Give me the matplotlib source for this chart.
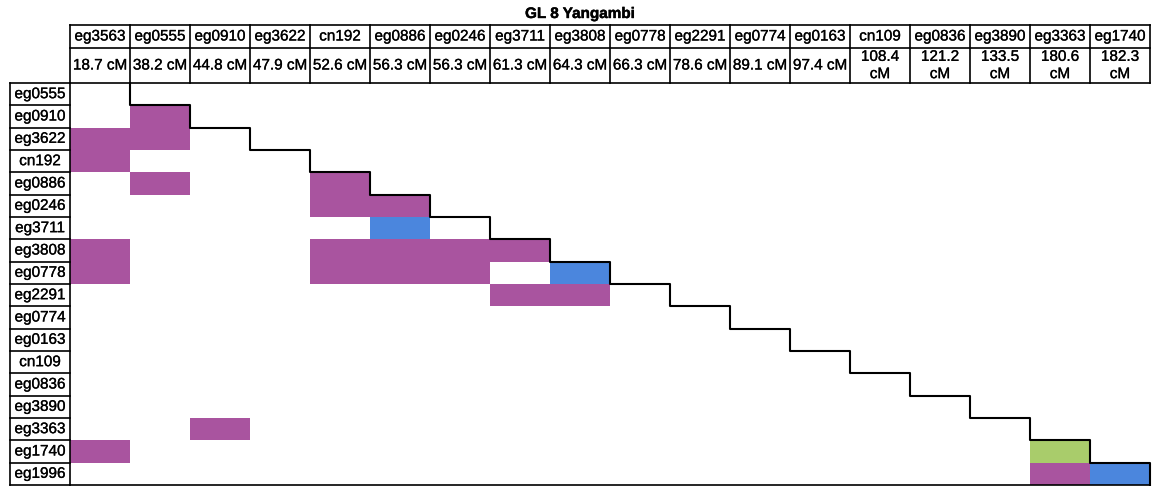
import numpy as np
import matplotlib
matplotlib.use('Agg')
import matplotlib.pyplot as plt
import matplotlib.patheffects as pe
from matplotlib.colors import ListedColormap

plt.rcParams['font.family'] = ['Liberation Sans', 'DejaVu Sans']

title = 'GL 8 Yangambi'
col_markers = ['eg3563', 'eg0555', 'eg0910', 'eg3622', 'cn192', 'eg0886',
               'eg0246', 'eg3711', 'eg3808', 'eg0778', 'eg2291', 'eg0774',
               'eg0163', 'cn109', 'eg0836', 'eg3890', 'eg3363', 'eg1740']
col_pos = ['18.7 cM', '38.2 cM', '44.8 cM', '47.9 cM', '52.6 cM', '56.3 cM',
           '56.3 cM', '61.3 cM', '64.3 cM', '66.3 cM', '78.6 cM', '89.1 cM',
           '97.4 cM', '108.4\ncM', '121.2\ncM', '133.5\ncM', '180.6\ncM',
           '182.3\ncM']
row_markers = ['eg0555', 'eg0910', 'eg3622', 'cn192', 'eg0886', 'eg0246',
               'eg3711', 'eg3808', 'eg0778', 'eg2291', 'eg0774', 'eg0163',
               'cn109', 'eg0836', 'eg3890', 'eg3363', 'eg1740', 'eg1996']

# (row, column) of the shaded marker pairs
purple_cells = [(1, 1), (2, 0), (2, 1), (3, 0), (4, 1), (4, 4), (5, 4), (5, 5),
                (7, 0), (7, 4), (7, 5), (7, 6), (7, 7), (8, 0), (8, 4), (8, 5),
                (8, 6), (9, 7), (9, 8), (15, 2), (16, 0), (17, 16)]
blue_cells = [(6, 5), (8, 8), (17, 17)]
green_cells = [(16, 16)]

n_rows, n_cols = len(row_markers), len(col_markers)

# pixel layout of the table
W, H, DPI = 1152, 486, 100
x0, cw = 70, 60          # left edge of first marker column, column width
y0, rh = 83, 402 / 18    # top of first row, row height
head1_top, head2_top = 25, 48
fs = 11
heavy = [pe.withStroke(linewidth=0.2, foreground='black')]

fig = plt.figure(figsize=(W / DPI, H / DPI), dpi=DPI)
ax = fig.add_axes([0, 0, 1, 1])
ax.set_xlim(-x0 / cw, (W - x0) / cw)
ax.set_ylim((H - y0) / rh, -y0 / rh)
ax.axis('off')

grid = np.zeros((n_rows, n_cols))
for code, cells in ((1, purple_cells), (2, blue_cells), (3, green_cells)):
    for r, c in cells:
        grid[r, c] = code
cmap = ListedColormap(['#a9549f', '#4b86dd', '#a9cc6b'])
ax.pcolormesh(np.arange(n_cols + 1), np.arange(n_rows + 1),
              np.ma.masked_equal(grid, 0), cmap=cmap, vmin=0.5, vmax=3.5,
              edgecolor='none')

lw = 1.2
h1 = (head1_top - y0) / rh
h2 = (head2_top - y0) / rh

# header boxes
for y in (h1, h2, 0):
    ax.plot([0, n_cols], [y, y], color='black', lw=lw)
for j in range(n_cols + 1):
    ax.plot([j, j], [h1, 0], color='black', lw=lw)
for j, (name, pos) in enumerate(zip(col_markers, col_pos)):
    ax.text(j + 0.5, (h1 + h2) / 2, name, ha='center', va='center',
            fontsize=fs, path_effects=heavy)
    ax.text(j + 0.5, h2 / 2, pos, ha='center', va='center', fontsize=fs,
            linespacing=1.3, path_effects=heavy)

# row label boxes
lx = -1
for i in range(n_rows + 1):
    ax.plot([lx, 0], [i, i], color='black', lw=lw)
ax.plot([lx, lx], [0, n_rows], color='black', lw=lw)
ax.plot([0, 0], [0, n_rows], color='black', lw=lw)
for i, name in enumerate(row_markers):
    ax.text(-0.5, i + 0.5, name, ha='center', va='center', fontsize=fs,
            path_effects=heavy)

# bottom edge and the diagonal staircase
ax.plot([0, n_cols], [n_rows, n_rows], color='black', lw=lw)
steps = np.arange(1, n_rows + 1)
sx = np.repeat(steps, 2)
sy = np.concatenate([[0], np.repeat(steps[:-1], 2), [n_rows]])
ax.plot(sx, sy, color='black', lw=1.5)

ax.text((580 - x0) / cw, (14 - y0) / rh, title, ha='center', va='center',
        fontsize=fs, fontweight='bold',
        path_effects=[pe.withStroke(linewidth=0.3, foreground='black')])

fig.savefig('out.png', dpi=DPI)
